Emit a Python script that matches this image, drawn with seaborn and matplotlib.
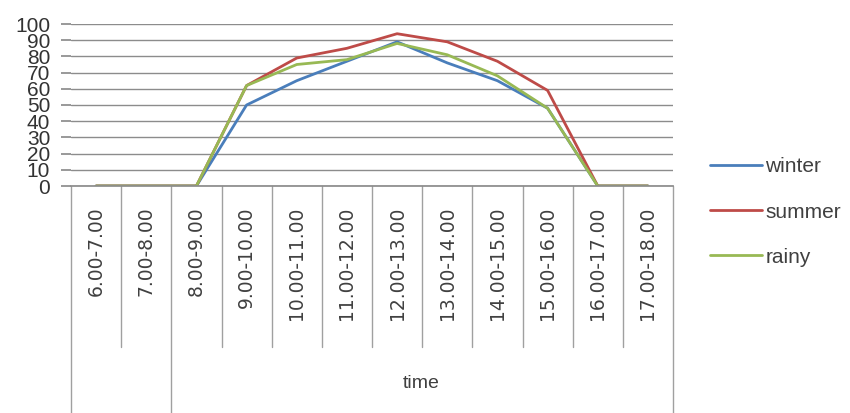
import matplotlib
matplotlib.use("Agg")
import matplotlib.pyplot as plt
import matplotlib.transforms as mtransforms
import seaborn as sns
import pandas as pd

times = ["6.00-7.00", "7.00-8.00", "8.00-9.00", "9.00-10.00", "10.00-11.00",
         "11.00-12.00", "12.00-13.00", "13.00-14.00", "14.00-15.00",
         "15.00-16.00", "16.00-17.00", "17.00-18.00"]
winter = [0, 0, 0, 50, 65, 77, 89, 76, 65, 48, 0, 0]
summer = [0, 0, 0, 62, 79, 85, 94, 89, 77, 59, 0, 0]
rainy = [0, 0, 0, 62, 75, 78, 88, 81, 68, 48, 0, 0]
series_names = ["winter", "summer", "rainy"]
colors = ["#4A7EBB", "#BE4B48", "#98B954"]
y_ticks = list(range(0, 101, 10))
x_title = "time"

df = pd.DataFrame({
    "time": times * 3,
    "value": winter + summer + rainy,
    "season": sum([[n] * len(times) for n in series_names], []),
})

sns.set_theme(style="white")
plt.rcParams["font.family"] = ["DejaVu Sans"]
label_font = "Liberation Sans"

fig = plt.figure(figsize=(8.5, 4.13), dpi=100)
W, H = 850, 413
left_px, right_px, top_px, bot_px = 71, 673, 24, 186
ax = fig.add_axes([left_px / W, 1 - bot_px / H, (right_px - left_px) / W, (bot_px - top_px) / H])

sns.lineplot(data=df, x="time", y="value", hue="season", palette=colors,
             sort=False, linewidth=2.0, ax=ax, legend=True)

ax.set_xlim(-0.5, len(times) - 0.5)
ax.set_ylim(0, 100)
ax.set_yticks(y_ticks)
ax.set_yticklabels([str(v) for v in y_ticks], fontfamily=label_font, fontsize=15, color="#333333")
ax.yaxis.grid(True, color="#8c8c8c", linewidth=1.0)
ax.set_axisbelow(True)
for s in ["top", "right", "left"]:
    ax.spines[s].set_visible(False)
ax.spines["bottom"].set_color("#8c8c8c")
ax.tick_params(axis="y", length=7, color="#8c8c8c", pad=8, left=True)
ax.set_xticks(range(len(times)))
ax.set_xticklabels(times, rotation=90, fontsize=13.5, color="#404040", va="top")
ax.tick_params(axis="x", length=0, pad=15)
ax.set_xlabel("")
ax.set_ylabel("")

# category divider lines below axis
trans = mtransforms.blended_transform_factory(ax.transData, ax.transAxes)
long_bound = {-0.5, 1.5, len(times) - 0.5}
for i in range(len(times) + 1):
    xb = i - 0.5
    yend = (bot_px - H) / (bot_px - top_px) if xb in long_bound else (bot_px - 347) / (bot_px - top_px)
    ax.plot([xb, xb], [0, yend], transform=trans, color="#a0a0a0", lw=1.0, clip_on=False)

ax.text((421 - left_px) / (right_px - left_px), (bot_px - 383) / (bot_px - top_px), x_title,
        transform=ax.transAxes, ha="center", va="center", fontsize=14,
        fontfamily=label_font, color="#404040")

handles, labels = ax.get_legend_handles_labels()
ax.legend_.remove()
fig.legend(handles, labels, loc="center left", bbox_to_anchor=(710 / W, 1 - 212 / H),
           frameon=False, borderpad=0, borderaxespad=0, handlelength=2.5,
           handletextpad=0.15, labelspacing=1.25,
           prop={"family": label_font, "size": 15}, labelcolor="#404040")

fig.savefig("out.png", dpi=100)
